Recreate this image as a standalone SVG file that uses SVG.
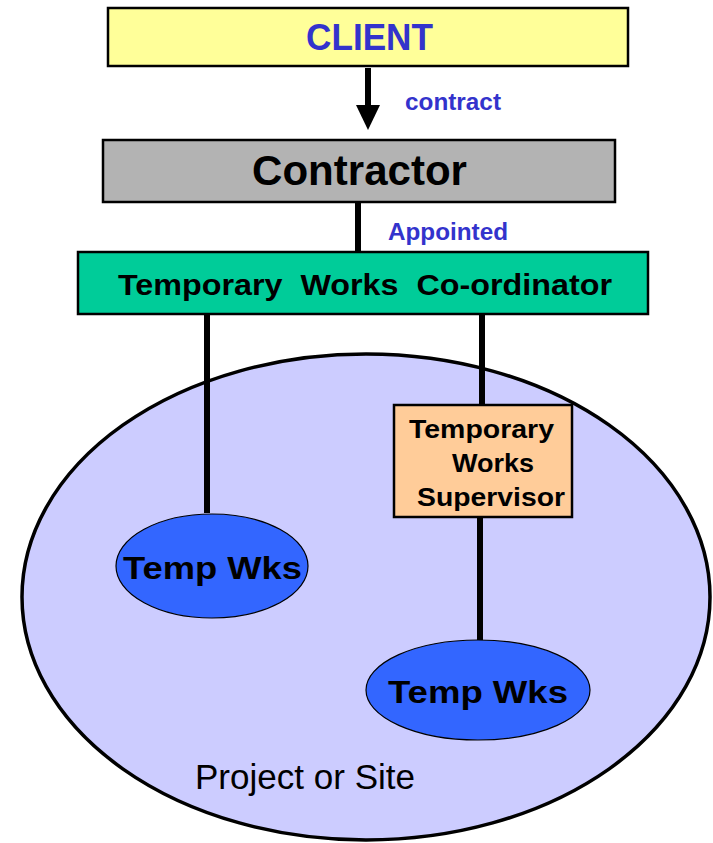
<svg xmlns="http://www.w3.org/2000/svg" width="713" height="843" viewBox="0 0 713 843">
  <style>
    .box { stroke: #000; stroke-width: 2.5; }
    .wire { stroke: #000; stroke-width: 6; fill: none; }
    .lbl { font-family: "Liberation Sans", Arial, sans-serif; font-weight: bold; }
    .blue { fill: #3333cc; }
    .blk { fill: #000; }
  </style>
  <rect width="713" height="843" fill="#fff"/>

  <!-- project / site boundary -->
  <g id="site">
    <ellipse cx="366" cy="597" rx="344" ry="243" fill="#ccccff" stroke="#000" stroke-width="3.5"/>
    <text x="195" y="789" font-family="'Liberation Sans', Arial, sans-serif" font-size="35" fill="#000" textLength="220" lengthAdjust="spacingAndGlyphs">Project or Site</text>
  </g>

  <!-- connectors -->
  <g id="connectors">
    <line class="wire" x1="368" y1="68" x2="368" y2="106"/>
    <path d="M356,105 L380,105 L368,130 Z" fill="#000"/>
    <line class="wire" x1="358" y1="202" x2="358" y2="252"/>
    <line class="wire" x1="207" y1="314" x2="207" y2="513"/>
    <line class="wire" x1="482" y1="314" x2="482" y2="405"/>
    <line class="wire" x1="480" y1="517" x2="480" y2="640"/>
    <text class="lbl blue" x="405" y="110" font-size="23" textLength="96" lengthAdjust="spacingAndGlyphs">contract</text>
    <text class="lbl blue" x="388" y="240" font-size="23" textLength="120" lengthAdjust="spacingAndGlyphs">Appointed</text>
  </g>

  <g id="client">
    <rect class="box" x="108" y="8" width="520" height="58" fill="#ffff99"/>
    <text class="lbl blue" x="306" y="50" font-size="37" textLength="127" lengthAdjust="spacingAndGlyphs">CLIENT</text>
  </g>

  <g id="contractor">
    <rect class="box" x="103" y="140" width="512" height="62" fill="#b3b3b3" stroke-width="3"/>
    <text class="lbl blk" x="252" y="185" font-size="42" textLength="215" lengthAdjust="spacingAndGlyphs">Contractor</text>
  </g>

  <g id="coordinator">
    <rect class="box" x="78" y="252" width="570" height="62" fill="#00cc99"/>
    <text class="lbl blk" x="118" y="295" font-size="29" xml:space="preserve" textLength="494" lengthAdjust="spacingAndGlyphs">Temporary  Works  Co-ordinator</text>
  </g>

  <g id="supervisor">
    <rect class="box" x="394" y="405" width="178" height="112" fill="#ffcc99" stroke-width="1.5"/>
    <text class="lbl blk" x="409" y="438" font-size="25" textLength="145" lengthAdjust="spacingAndGlyphs">Temporary</text>
    <text class="lbl blk" x="452" y="472" font-size="25" textLength="82" lengthAdjust="spacingAndGlyphs">Works</text>
    <text class="lbl blk" x="417" y="506" font-size="25" textLength="148" lengthAdjust="spacingAndGlyphs">Supervisor</text>
  </g>

  <g id="tempworks1">
    <ellipse cx="212" cy="566" rx="96" ry="52" fill="#3366ff" stroke="#000" stroke-width="1.2"/>
    <text class="lbl blk" x="123" y="579" font-size="31" textLength="179" lengthAdjust="spacingAndGlyphs">Temp Wks</text>
  </g>

  <g id="tempworks2">
    <ellipse cx="478" cy="690" rx="112" ry="50" fill="#3366ff" stroke="#000" stroke-width="1.2"/>
    <text class="lbl blk" x="388" y="703" font-size="31" textLength="180" lengthAdjust="spacingAndGlyphs">Temp Wks</text>
  </g>
</svg>
